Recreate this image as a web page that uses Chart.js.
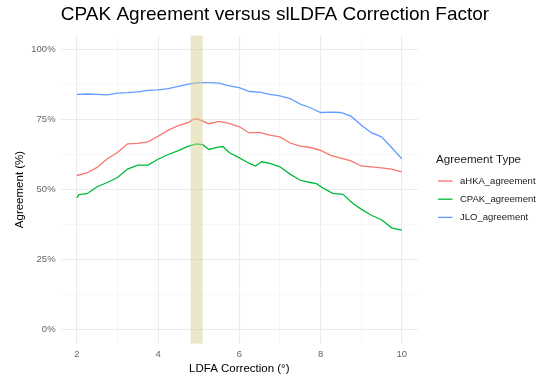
<!DOCTYPE html>
<html>
<head>
<meta charset="utf-8">
<script src="https://cdn.jsdelivr.net/npm/chart.js@4"></script>
<style>
  html, body { margin: 0; padding: 0; background: #fff; }
  #wrap { width: 547px; height: 381px; }
</style>
</head>
<body>
<div id="wrap"><canvas id="agreementChart" width="547" height="381"></canvas></div>
<script>
// values ###############################################################################
const chartTitle = "CPAK Agreement versus slLDFA Correction Factor";
const seriesNames = ["aHKA_agreement", "CPAK_agreement", "JLO_agreement"];
const seriesColors = ["#F8766D", "#00BA38", "#619CFF"];

const aHKA_x = [2.0, 2.25, 2.5, 2.75, 3.0, 3.25, 3.5, 3.75, 4.0, 4.25, 4.5, 4.75, 4.9, 5.0, 5.25, 5.5, 5.75, 6.0, 6.25, 6.5, 6.75, 7.0, 7.25, 7.5, 7.75, 8.0, 8.25, 8.5, 8.75, 9.0, 9.25, 9.5, 9.75, 10.0];
const aHKA_y = [55.0, 55.9, 57.9, 61.0, 63.2, 66.3, 66.5, 67.0, 69.0, 71.2, 72.8, 74.0, 75.2, 75.0, 73.5, 74.3, 73.6, 72.4, 70.2, 70.4, 69.4, 68.8, 66.6, 65.5, 65.0, 64.0, 62.2, 61.2, 60.2, 58.4, 58.1, 57.7, 57.3, 56.3];

const CPAK_x = [2.0, 2.05, 2.25, 2.5, 2.75, 3.0, 3.25, 3.5, 3.75, 4.0, 4.25, 4.5, 4.75, 4.95, 5.1, 5.25, 5.5, 5.6, 5.75, 6.0, 6.25, 6.4, 6.55, 6.75, 7.0, 7.25, 7.5, 7.75, 7.9, 8.1, 8.3, 8.55, 8.8, 9.0, 9.25, 9.5, 9.75, 10.0];
const CPAK_y = [47.0, 48.2, 48.5, 51.0, 52.5, 54.3, 57.3, 58.7, 58.7, 60.8, 62.5, 63.9, 65.5, 66.3, 66.0, 64.3, 65.2, 65.3, 63.2, 61.3, 59.3, 58.4, 59.9, 59.3, 58.1, 55.5, 53.3, 52.5, 52.1, 50.2, 48.6, 48.3, 45.0, 43.0, 40.8, 39.2, 36.3, 35.5];

const JLO_x = [2.0, 2.25, 2.5, 2.75, 3.0, 3.25, 3.5, 3.75, 4.0, 4.25, 4.5, 4.75, 5.0, 5.25, 5.5, 5.75, 6.0, 6.25, 6.5, 6.75, 7.0, 7.25, 7.5, 7.75, 8.0, 8.25, 8.5, 8.75, 9.0, 9.25, 9.5, 9.75, 10.0];
const JLO_y = [84.0, 84.1, 84.0, 83.8, 84.4, 84.6, 84.9, 85.4, 85.6, 86.0, 86.8, 87.6, 88.2, 88.2, 88.0, 87.0, 86.4, 85.0, 84.8, 84.0, 83.4, 82.5, 80.5, 79.2, 77.5, 77.6, 77.5, 76.2, 73.0, 70.3, 68.8, 65.0, 61.0];

const xTicks = [2, 3, 4, 5, 6, 7, 8, 9, 10];
const yTicks = [0, 12.5, 25, 37.5, 50, 62.5, 75, 87.5, 100];
const bandRange = [4.8, 5.1];  // highlighted correction window

// helpers ###############################################################################
function toPoints(xs, ys) {
    return xs.map((x, i) => ({ x: x, y: ys[i] }));
}

const allX = [aHKA_x, CPAK_x, JLO_x];
const allY = [aHKA_y, CPAK_y, JLO_y];

const datasets = seriesNames.map((name, i) => ({
    label: name,
    data: toPoints(allX[i], allY[i]),
    borderColor: seriesColors[i],
    backgroundColor: seriesColors[i],
    borderWidth: 1.3,
    pointRadius: 0,
    tension: 0,
    fill: false
}));

// shaded band, drawn over the lines like the reference
const bandPlugin = {
    id: "band",
    afterDatasetsDraw(chart) {
        const { ctx, chartArea, scales } = chart;
        const x0 = scales.x.getPixelForValue(bandRange[0]);
        const x1 = scales.x.getPixelForValue(bandRange[1]);
        ctx.save();
        ctx.fillStyle = "rgba(213, 209, 145, 0.5)";
        ctx.fillRect(x0, chartArea.top, x1 - x0, chartArea.bottom - chartArea.top);
        ctx.restore();
    }
};

// title centred on the whole canvas + ggplot style legend on the right
const sideLegend = {
    id: "sideLegend",
    afterDraw(chart) {
        const ctx = chart.ctx;
        ctx.save();
        ctx.textBaseline = "middle";
        ctx.textAlign = "center";
        ctx.fillStyle = "#000";
        ctx.font = "19px 'Liberation Sans', Arial, sans-serif";
        ctx.fillText(chartTitle, 275, 15);

        ctx.textAlign = "left";
        ctx.fillStyle = "#1a1a1a";
        ctx.font = "11.6px 'Liberation Sans', Arial, sans-serif";
        ctx.fillText("Agreement Type", 436, 160);
        ctx.font = "9.5px 'Liberation Sans', Arial, sans-serif";
        seriesNames.forEach((name, i) => {
            const y = 181 + i * 18.2;
            ctx.strokeStyle = seriesColors[i];
            ctx.lineWidth = 1.3;
            ctx.beginPath();
            ctx.moveTo(438, y);
            ctx.lineTo(452.5, y);
            ctx.stroke();
            ctx.fillStyle = "#1a1a1a";
            ctx.fillText(name, 460, y);
        });
        ctx.restore();
    }
};

const gridColor = (ctx, step) => (ctx.tick && ctx.tick.value % step === 0) ? "#EBEBEB" : "#F4F4F4";
const gridWidth = (ctx, step) => (ctx.tick && ctx.tick.value % step === 0) ? 1.1 : 0.7;

const ctx = document.getElementById("agreementChart").getContext("2d");
const chart = new Chart(ctx, {
    type: "line",
    data: { datasets: datasets },
    options: {
        responsive: false,
        animation: false,
        layout: { padding: { left: 0, right: 129, top: 35.5, bottom: 0 } },
        plugins: {
            legend: { display: false },
            tooltip: { enabled: false },
            title: { display: false }
        },
        scales: {
            x: {
                type: "linear",
                min: 1.6,
                max: 10.4,
                afterBuildTicks: scale => { scale.ticks = xTicks.map(v => ({ value: v })); },
                afterFit: scale => { scale.height = 37.5; },
                border: { display: false },
                grid: {
                    drawTicks: false,
                    color: c => gridColor(c, 2),
                    lineWidth: c => gridWidth(c, 2)
                },
                ticks: {
                    autoSkip: false,
                    maxRotation: 0,
                    padding: 5,
                    color: "#666",
                    font: { family: "'Liberation Sans', Arial, sans-serif", size: 9.5 },
                    callback: v => (v % 2 === 0 ? String(v) : "")
                },
                title: {
                    display: true,
                    text: "LDFA Correction (°)",
                    color: "#000",
                    font: { family: "'Liberation Sans', Arial, sans-serif", size: 11.5 },
                    padding: { top: 0, bottom: 4.8 }
                }
            },
            y: {
                min: -5,
                max: 105,
                afterBuildTicks: scale => { scale.ticks = yTicks.map(v => ({ value: v })); },
                afterFit: scale => { scale.width = 60.6; },
                border: { display: false },
                grid: {
                    drawTicks: false,
                    color: c => gridColor(c, 25),
                    lineWidth: c => gridWidth(c, 25)
                },
                ticks: {
                    padding: 5,
                    color: "#666",
                    font: { family: "'Liberation Sans', Arial, sans-serif", size: 9.5 },
                    callback: v => (v % 25 === 0 ? v + "%" : "")
                },
                title: {
                    display: true,
                    text: "Agreement (%)",
                    color: "#000",
                    font: { family: "'Liberation Sans', Arial, sans-serif", size: 11.5 },
                    padding: { top: 13, bottom: 0 }
                }
            }
        }
    },
    plugins: [bandPlugin, sideLegend]
});
</script>
</body>
</html>
